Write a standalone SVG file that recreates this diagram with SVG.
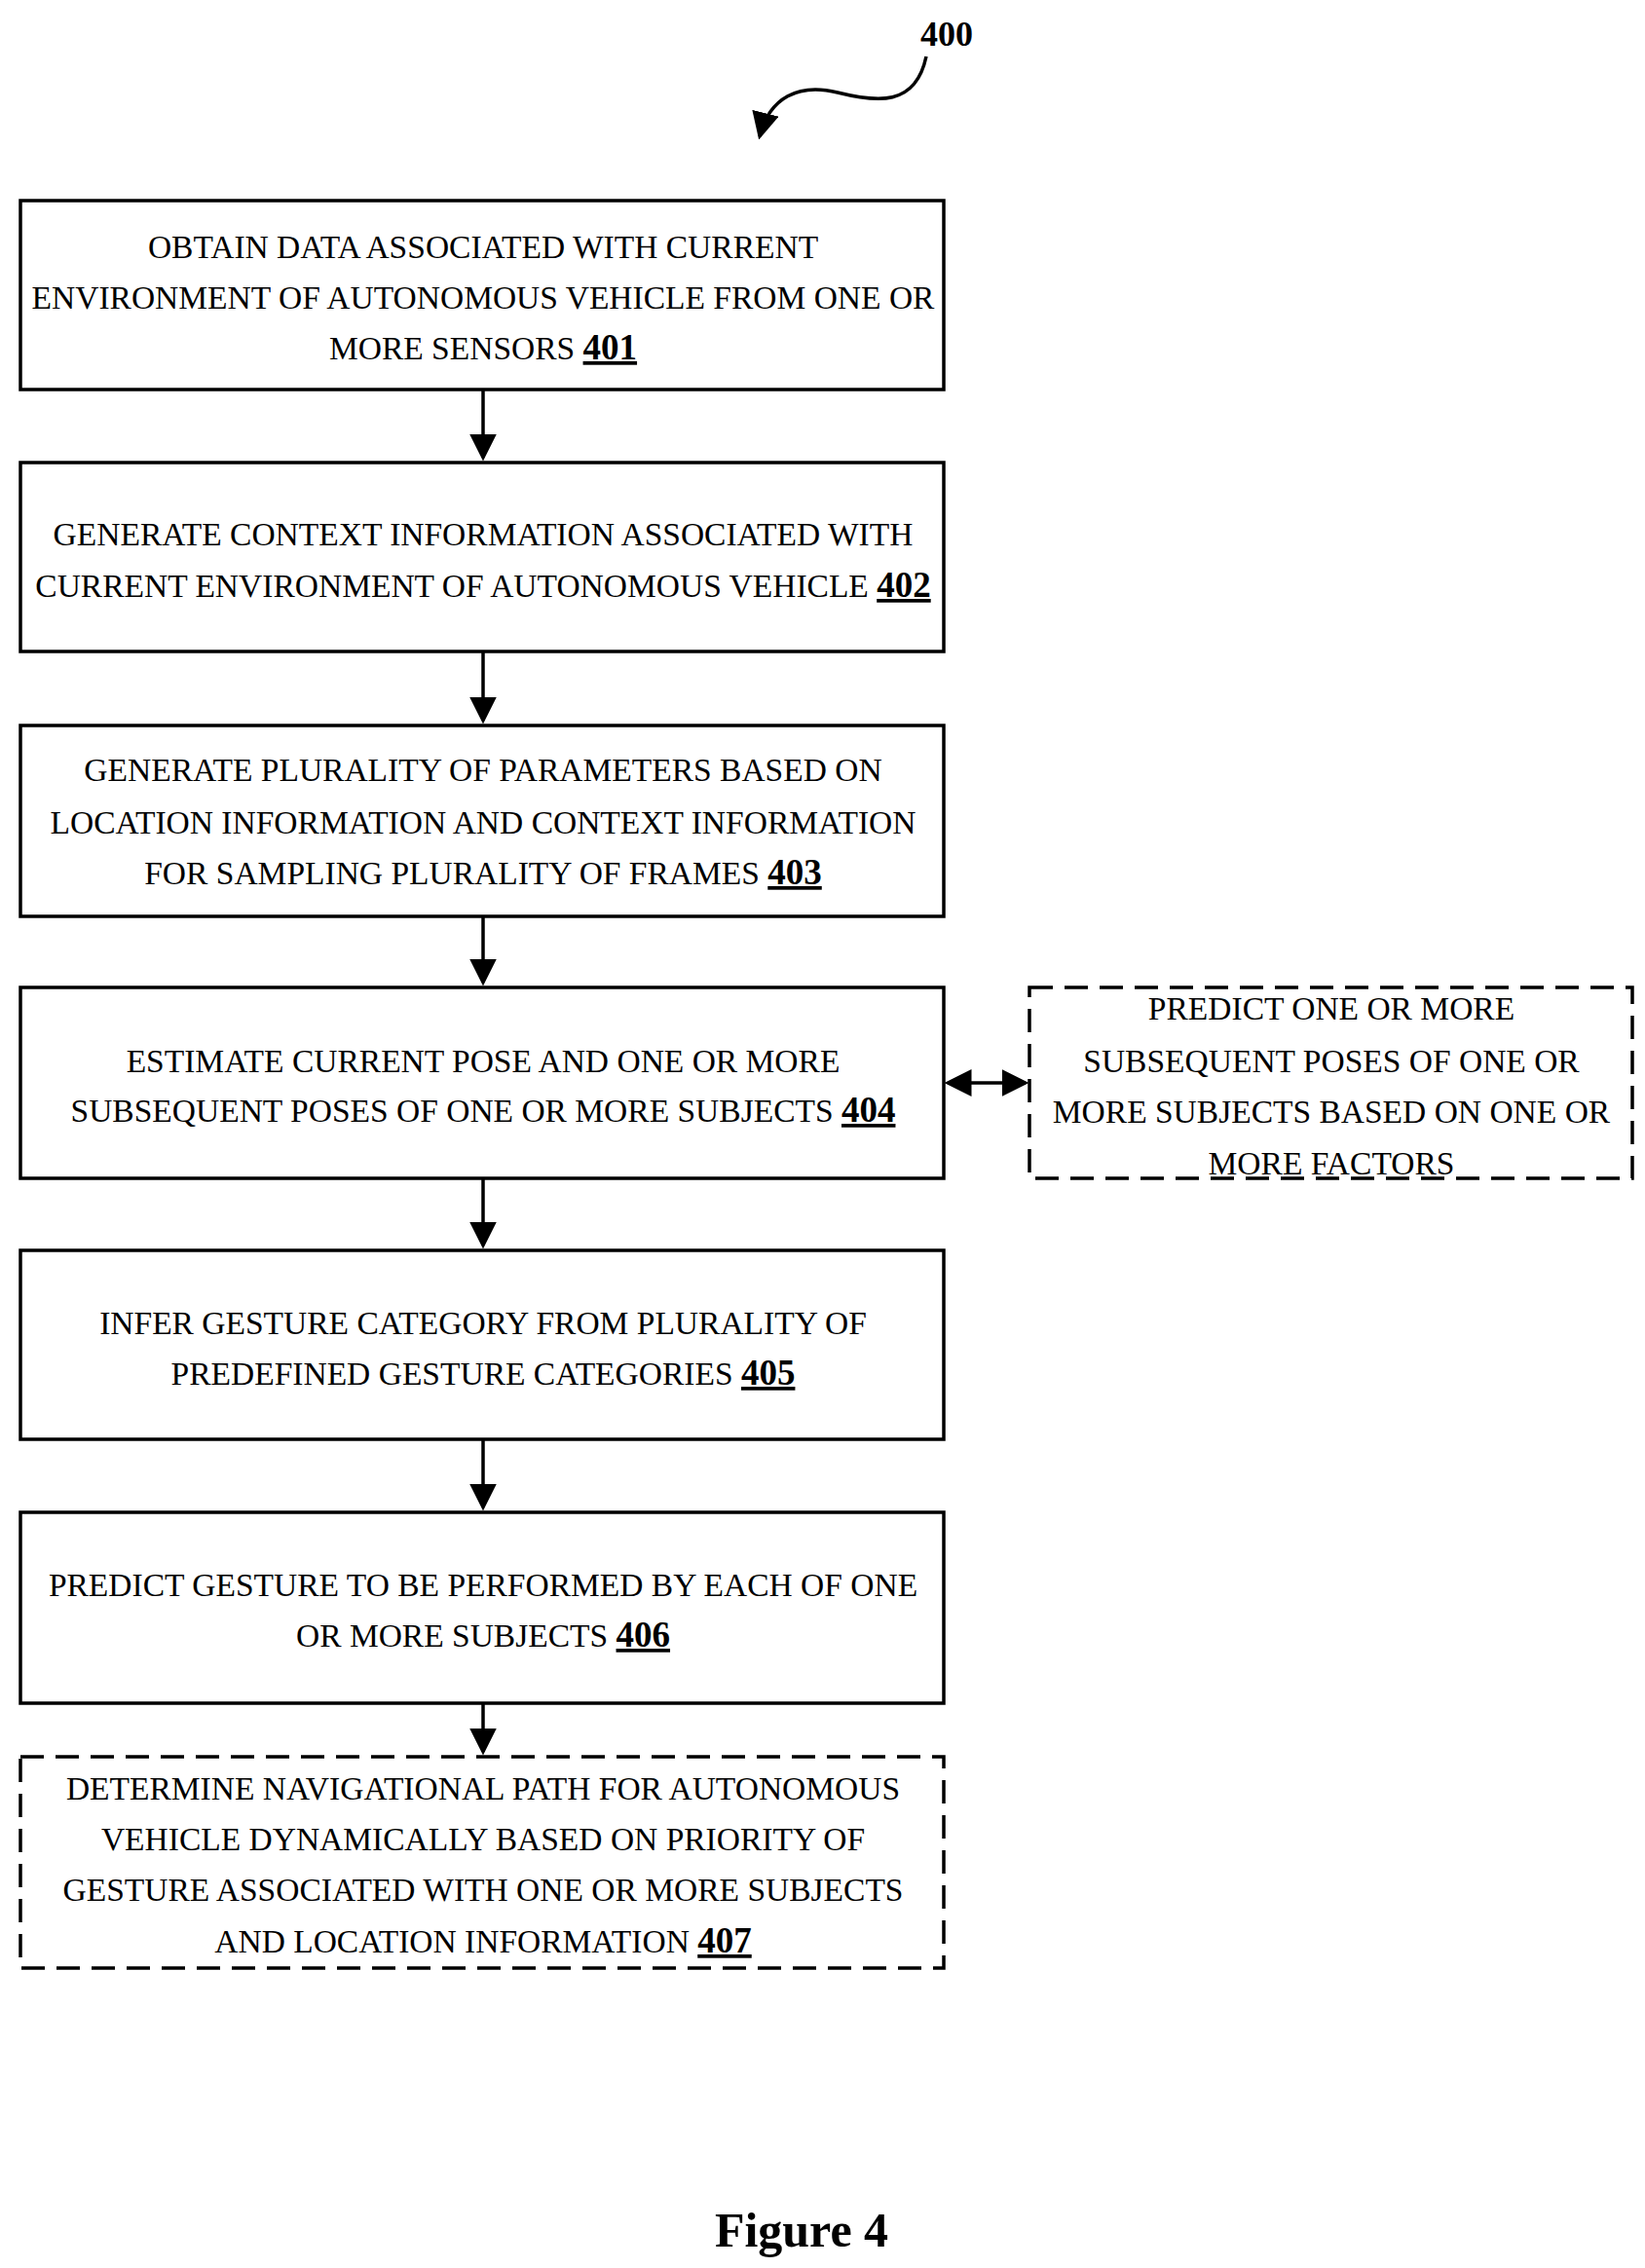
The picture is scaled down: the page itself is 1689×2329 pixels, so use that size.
<svg xmlns="http://www.w3.org/2000/svg" width="1689" height="2329" viewBox="0 0 1689 2329">
<style>
.b{fill:#fff;stroke:#000;stroke-width:3.5}
.d{fill:#fff;stroke:#000;stroke-width:3.5;stroke-dasharray:24 12}
text{font-family:"Liberation Serif","Times New Roman",serif;font-size:33.5px;text-anchor:middle;fill:#000}
.n{font-weight:bold;text-decoration:underline;font-size:37px}
.c{stroke:#000;stroke-width:3.5;fill:none}
</style>
<defs><marker id="a" markerWidth="8" markerHeight="8" refX="7" refY="4" orient="auto-start-reverse" markerUnits="strokeWidth"><path d="M0,0 L8,4 L0,8 Z" fill="#000"/></marker></defs>
<g id="label400"><text x="972" y="47" style="font-weight:bold;font-size:36px">400</text></g>
<g id="connectors">
<path class="c" d="M951,58 C940,110 900,105 860,95 C820,85 790,100 780,140" marker-end="url(#a)"/>
<line class="c" x1="496" y1="400" x2="496" y2="470" marker-end="url(#a)"/>
<line class="c" x1="496" y1="669" x2="496" y2="740" marker-end="url(#a)"/>
<line class="c" x1="496" y1="941" x2="496" y2="1009" marker-end="url(#a)"/>
<line class="c" x1="496" y1="1210" x2="496" y2="1279" marker-end="url(#a)"/>
<line class="c" x1="496" y1="1478" x2="496" y2="1548" marker-end="url(#a)"/>
<line class="c" x1="496" y1="1749" x2="496" y2="1799" marker-end="url(#a)"/>
<line class="c" x1="973" y1="1112" x2="1053" y2="1112" marker-end="url(#a)" marker-start="url(#a)"/>
</g>
<g id="n401"><rect class="b" x="21" y="206" width="948" height="194"/>
<text x="496" y="265">OBTAIN DATA ASSOCIATED WITH CURRENT</text>
<text x="496" y="317">ENVIRONMENT OF AUTONOMOUS VEHICLE FROM ONE OR</text>
<text x="496" y="369">MORE SENSORS  <tspan class="n">401</tspan></text></g>
<g id="n402"><rect class="b" x="21" y="475" width="948" height="194"/>
<text x="496" y="560">GENERATE CONTEXT INFORMATION ASSOCIATED WITH</text>
<text x="496" y="613">CURRENT ENVIRONMENT OF AUTONOMOUS VEHICLE <tspan class="n">402</tspan></text></g>
<g id="n403"><rect class="b" x="21" y="745" width="948" height="196"/>
<text x="496" y="802">GENERATE PLURALITY OF PARAMETERS BASED ON</text>
<text x="496" y="856">LOCATION INFORMATION AND CONTEXT INFORMATION</text>
<text x="496" y="908">FOR SAMPLING PLURALITY OF FRAMES <tspan class="n">403</tspan></text></g>
<g id="n404"><rect class="b" x="21" y="1014" width="948" height="196"/>
<text x="496" y="1101">ESTIMATE CURRENT POSE AND ONE OR MORE</text>
<text x="496" y="1152">SUBSEQUENT POSES OF ONE OR MORE SUBJECTS <tspan class="n">404</tspan></text></g>
<g id="side"><rect class="d" x="1057" y="1014" width="619" height="196"/>
<text x="1367" y="1047">PREDICT ONE OR MORE</text>
<text x="1367" y="1101">SUBSEQUENT POSES OF ONE OR</text>
<text x="1367" y="1153">MORE SUBJECTS BASED ON ONE OR</text>
<text x="1367" y="1206">MORE FACTORS</text></g>
<g id="n405"><rect class="b" x="21" y="1284" width="948" height="194"/>
<text x="496" y="1370">INFER GESTURE CATEGORY FROM PLURALITY OF</text>
<text x="496" y="1422">PREDEFINED GESTURE CATEGORIES <tspan class="n">405</tspan></text></g>
<g id="n406"><rect class="b" x="21" y="1553" width="948" height="196"/>
<text x="496" y="1639">PREDICT GESTURE TO BE PERFORMED BY EACH OF ONE</text>
<text x="496" y="1691">OR MORE SUBJECTS <tspan class="n">406</tspan></text></g>
<g id="n407"><rect class="d" x="21" y="1804" width="948" height="217"/>
<text x="496" y="1848">DETERMINE NAVIGATIONAL PATH FOR AUTONOMOUS</text>
<text x="496" y="1900">VEHICLE DYNAMICALLY BASED ON PRIORITY OF</text>
<text x="496" y="1952">GESTURE ASSOCIATED WITH ONE OR MORE SUBJECTS</text>
<text x="496" y="2005">AND LOCATION INFORMATION <tspan class="n">407</tspan></text></g>
<g id="caption"><text x="823" y="2307" style="font-weight:bold;font-size:50px">Figure 4</text></g>
</svg>
